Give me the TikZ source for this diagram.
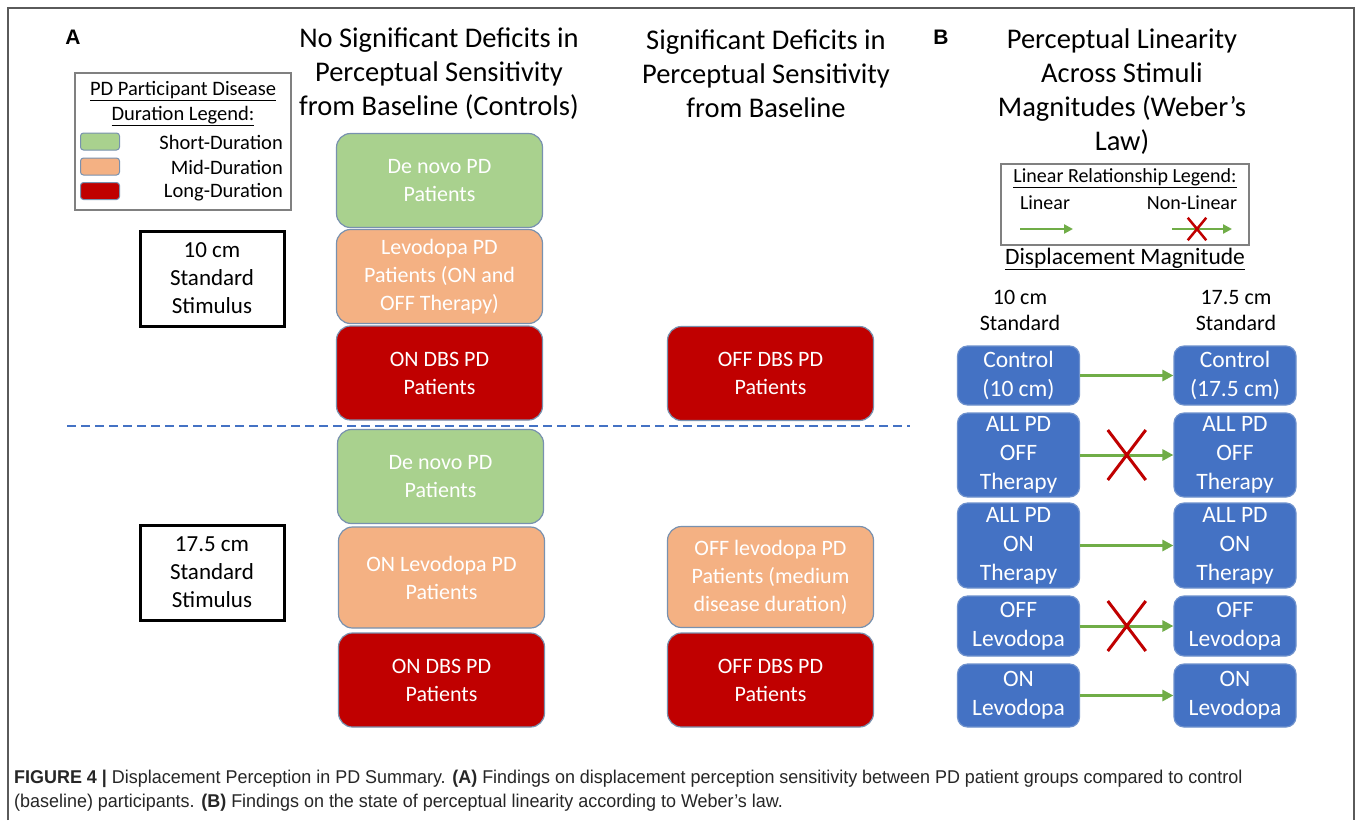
\documentclass[tikz,border=0pt]{standalone}
\usepackage{fontspec}
\setmainfont{Carlito}
\newfontfamily\capfont[FakeStretch=0.97]{Liberation Sans}
\newfontfamily\labfont{Liberation Sans}
\usetikzlibrary{arrows.meta,calc,positioning,shapes.misc}

\definecolor{shortc}{RGB}{169,209,142}
\definecolor{midc}{RGB}{244,177,131}
\definecolor{longc}{RGB}{192,0,0}
\definecolor{edgec}{RGB}{120,145,175}
\definecolor{wblue}{RGB}{68,114,196}
\definecolor{wedge}{RGB}{110,145,205}
\definecolor{arrowc}{RGB}{112,173,71}
\definecolor{framec}{RGB}{90,90,90}

\begin{document}
\begin{tikzpicture}[x=1pt,y=-1pt,
  pdbox/.style={draw=edgec, line width=1.2pt, rounded corners=14pt, minimum width=206pt,
    minimum height=94pt, align=center, text=white, font=\fontsize{22}{28}\selectfont},
  wbox/.style={draw=wedge, fill=wblue, line width=1.2pt, rounded corners=10pt, minimum width=122pt,
    align=center, text=white, font=\fontsize{23.5}{29}\selectfont},
  stim/.style={draw=black, line width=3pt, minimum width=144pt, minimum height=95pt,
    align=center, font=\fontsize{23}{28}\selectfont},
  title/.style={align=center, font=\fontsize{28.5}{34}\selectfont},
  swatch/.style={draw=edgec, line width=1pt, rounded corners=3pt, minimum width=39pt, minimum height=17pt, inner sep=0pt},
  legtext/.style={anchor=east, font=\fontsize{20.5}{25}\selectfont, inner sep=0pt},
  lin/.style={draw=arrowc, -{Triangle[length=11pt,width=11pt]}, line width=3pt},
  linsmall/.style={draw=arrowc, -{Triangle[length=9pt,width=9pt]}, line width=2.5pt},
  xmark/.style={cross out, draw=longc, line width=3pt},
  panel/.style={font=\labfont\bfseries\fontsize{21}{24}\selectfont}]

  \useasboundingbox (0,0) rectangle (1357,820);
  \fill[white] (0,0) rectangle (1357,820);

  % outer frame
  \draw[framec, line width=2pt] (8,820) -- (8,8) -- (1354,8) -- (1354,820);

  % panel letters
  \node[panel] (pa) at (73,37) {A};
  \node[panel] (pb) at (941,37) {B};

  % column titles
  \node[title] (t1) at (439,74) {No Significant Deficits in\\Perceptual Sensitivity\\from Baseline (Controls)};
  \node[title] (t2) at (766,74) {Significant Deficits in\\Perceptual Sensitivity\\from Baseline};
  \node[title] (t3) at (1122,91.5) {Perceptual Linearity\\Across Stimuli\\Magnitudes (Weber’s\\Law)};

  % disease duration legend
  \node[draw=gray, line width=1.5pt, minimum width=216pt, minimum height=137pt, inner sep=0pt] (legA) at (183,141.5) {};
  \node[align=center, font=\fontsize{20.5}{25}\selectfont] (legAt) at (183,103.5)
    {\underline{PD Participant Disease}\\\underline{Duration Legend:}};
  \node[swatch, fill=shortc] (sw1) at (100,141.5) {};
  \node[swatch, fill=midc] (sw2) at (100,166.5) {};
  \node[swatch, fill=longc] (sw3) at (100,191) {};
  \node[legtext] (lg1) at (283,142) {Short-Duration};
  \node[legtext] (lg2) at (283,167) {Mid-Duration};
  \node[legtext] (lg3) at (283,192) {Long-Duration};

  % standard stimulus boxes
  \node[stim] (s10) at (212,278.5) {10 cm\\Standard\\Stimulus};
  \node[stim] (s17) at (212,572.5) {17.5 cm\\Standard\\Stimulus};

  % 10 cm groups
  \node[pdbox, fill=shortc] (dn1) at (439.5,180.5) {De novo PD\\Patients};
  \node[pdbox, fill=midc] (lv1) at (439.5,276.5) {Levodopa PD\\Patients (ON and\\OFF Therapy)};
  \node[pdbox, fill=longc] (on1) at (439.5,373) {ON DBS PD\\Patients};
  \node[pdbox, fill=longc] (off1) at (770.5,373.5) {OFF DBS PD\\Patients};

  % divider
  \draw[wblue, line width=2.5pt, dash pattern=on 9pt off 5pt] (67,426) -- (910,426);

  % 17.5 cm groups
  \node[pdbox, fill=shortc] (dn2) at (440.5,476.5) {De novo PD\\Patients};
  \node[pdbox, fill=midc, minimum height=101pt] (lv2) at (441.5,577.5) {ON Levodopa PD\\Patients};
  \node[pdbox, fill=longc] (on2) at (441.5,680) {ON DBS PD\\Patients};
  \node[pdbox, fill=midc, minimum height=101pt] (lv3) at (770.5,577) {OFF levodopa PD\\Patients (medium\\disease duration)};
  \node[pdbox, fill=longc] (off2) at (770.5,680) {OFF DBS PD\\Patients};

  % linearity legend
  \node[draw=gray, line width=1.5pt, minimum width=248pt, minimum height=81pt, inner sep=0pt] (legB) at (1125,204.5) {};
  \node[font=\fontsize{20}{24}\selectfont] (legBt) at (1125,178) {\underline{Linear Relationship Legend:}};
  \node[font=\fontsize{20}{24}\selectfont] (lgl) at (1045,203) {Linear};
  \node[font=\fontsize{20}{24}\selectfont] (lgn) at (1192,203) {Non-Linear};
  \coordinate (la) at (1020,229);
  \coordinate (lb) at (1073,229);
  \coordinate (na) at (1172,229);
  \coordinate (nb) at (1232,229);
  \draw[linsmall] (la) -- (lb);
  \draw[linsmall] (na) -- (nb);
  \node[xmark, line width=2.5pt, minimum width=16pt, minimum height=20pt] (lgx) at (1197,229) {};

  \node[font=\fontsize{23.5}{28}\selectfont] (dm) at (1125,259) {\underline{Displacement Magnitude}};
  \node[align=center, font=\fontsize{22}{26}\selectfont] (h10) at (1020,310) {10 cm\\Standard};
  \node[align=center, font=\fontsize{22}{26}\selectfont] (h17) at (1236,310) {17.5 cm\\Standard};

  % weber boxes
  \node[wbox, minimum height=59pt] (c10) at (1018.5,375.5) {Control\\(10 cm)};
  \node[wbox, minimum height=59pt] (c17) at (1235,375.5) {Control\\(17.5 cm)};
  \node[wbox, minimum height=84pt] (aof1) at (1018.5,455) {ALL PD\\OFF\\Therapy};
  \node[wbox, minimum height=84pt] (aof2) at (1235,455) {ALL PD\\OFF\\Therapy};
  \node[wbox, minimum height=85pt] (aon1) at (1018.5,545.5) {ALL PD\\ON\\Therapy};
  \node[wbox, minimum height=85pt] (aon2) at (1235,545.5) {ALL PD\\ON\\Therapy};
  \node[wbox, minimum height=60pt] (lof1) at (1018.5,626) {OFF\\Levodopa};
  \node[wbox, minimum height=60pt] (lof2) at (1235,626) {OFF\\Levodopa};
  \node[wbox, minimum height=63pt] (lon1) at (1018.5,695.5) {ON\\Levodopa};
  \node[wbox, minimum height=63pt] (lon2) at (1235,695.5) {ON\\Levodopa};

  \draw[lin] (c10) -- (c17);
  \draw[lin] (aof1) -- (aof2);
  \draw[lin] (aon1) -- (aon2);
  \draw[lin] (lof1) -- (lof2);
  \draw[lin] (lon1) -- (lon2);
  \node[xmark, minimum width=35pt, minimum height=47pt] (x1) at ($(aof1.east)!0.5!(aof2.west)$) {};
  \node[xmark, minimum width=35pt, minimum height=47pt] (x2) at ($(lof1.east)!0.5!(lof2.west)$) {};

  % caption
  \node[anchor=west, align=left, inner sep=0pt, text=black!85, font=\capfont\fontsize{18.5}{24}\selectfont] (cap) at (14,791)
    {\textbf{FIGURE 4 |} Displacement Perception in PD Summary. \textbf{(A)} Findings on displacement perception sensitivity between PD patient groups compared to control\\
     (baseline) participants. \textbf{(B)} Findings on the state of perceptual linearity according to Weber’s law.};

\end{tikzpicture}
\end{document}
